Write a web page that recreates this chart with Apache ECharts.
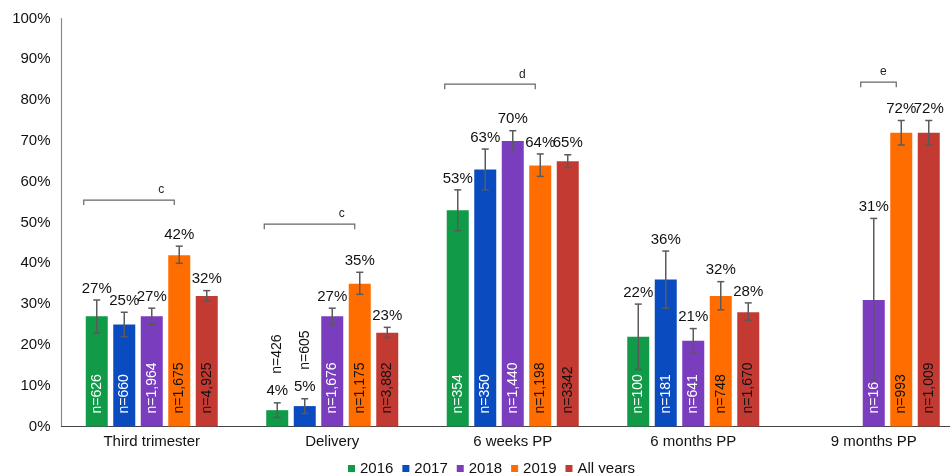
<!DOCTYPE html>
<html>
<head>
<meta charset="utf-8">
<script src="https://cdn.jsdelivr.net/npm/echarts@6/dist/echarts.min.js"></script>
<style>
  html, body { margin: 0; padding: 0; background: #fff; }
  #chart { width: 950px; height: 473px; }
</style>
</head>
<body>
<div id="chart"></div>
<script>
// Time points and cohorts
const categories = ['Third trimester', 'Delivery', '6 weeks PP', '6 months PP', '9 months PP'];
const years = ['2016', '2017', '2018', '2019', 'All years'];

// Percentages per cohort (null = not measured)
const pct2016 = [27, 4, 53, 22, null];
const pct2017 = [25, 5, 63, 36, null];
const pct2018 = [27, 27, 70, 21, 31];
const pct2019 = [42, 35, 64, 32, 72];
const pctAll  = [32, 23, 65, 28, 72];

// 95% confidence interval bounds
const ciLow2016  = [23, 2.2, 48, 14, null];
const ciHigh2016 = [31, 5.8, 58, 30, null];
const ciLow2017  = [22, 3.2, 58, 29, null];
const ciHigh2017 = [28, 6.8, 68, 43, null];
const ciLow2018  = [25, 25, 67.8, 18, 11.4];
const ciHigh2018 = [29, 29, 72.5, 24, 51];
const ciLow2019  = [40, 32.4, 61.3, 28.6, 69];
const ciHigh2019 = [44.2, 37.8, 66.8, 35.5, 75];
const ciLowAll   = [30.8, 21.8, 63.5, 26, 69];
const ciHighAll  = [33.3, 24.3, 66.6, 30.3, 75];

// Sample sizes
const n2016 = ['626', '426', '354', '100', null];
const n2017 = ['660', '605', '350', '181', null];
const n2018 = ['1,964', '1,676', '1,440', '641', '16'];
const n2019 = ['1,675', '1,175', '1,198', '748', '993'];
const nAll  = ['4,925', '3,882', '3342', '1,670', '1,009'];

// Significance brackets: time point, letter, height (%), first and last cohort spanned
const bracketCats    = [0, 1, 2, 4];
const bracketLetters = ['c', 'c', 'd', 'e'];
const bracketLevels  = [55.5, 49.6, 83.9, 84.4];
const bracketFirst   = [0, 0, 0, 2];
const bracketLast    = [3, 3, 3, 3];

const pctSeries  = [pct2016, pct2017, pct2018, pct2019, pctAll];
const lowSeries  = [ciLow2016, ciLow2017, ciLow2018, ciLow2019, ciLowAll];
const highSeries = [ciHigh2016, ciHigh2017, ciHigh2018, ciHigh2019, ciHighAll];
const nSeries    = [n2016, n2017, n2018, n2019, nAll];
const colors = ['#119A48', '#0A4CC0', '#7A3DBE', '#FF6C00', '#C23A32'];

const FONT = '"Liberation Sans", Arial, Helvetica, sans-serif';
const barW = 22;
const barStep = barW * 1.25;
const errColor = '#5a5a5a';

const barSeries = years.map((y, i) => ({
  name: y,
  type: 'bar',
  barWidth: barW,
  barGap: '25%',
  itemStyle: { color: colors[i] },
  data: pctSeries[i],
  z: 2
}));

// Error bars, value labels and sample-size labels for each cohort
const overlaySeries = years.map((y, i) => {
  const data = [];
  categories.forEach((c, k) => {
    if (pctSeries[i][k] != null) data.push([k, pctSeries[i][k], lowSeries[i][k], highSeries[i][k]]);
  });
  return {
    name: 'ci-' + y,
    type: 'custom',
    coordinateSystem: 'cartesian2d',
    encode: { x: 0, y: 1 },
    z: 5,
    silent: true,
    data: data,
    renderItem: function (params, api) {
      const k = api.value(0), v = api.value(1), lo = api.value(2), hi = api.value(3);
      const base = api.coord([k, 0]);
      const cx = base[0] + (i - 2) * barStep;
      const y0 = base[1];
      const yv = api.coord([k, v])[1];
      const yl = api.coord([k, lo])[1];
      const yh = api.coord([k, hi])[1];
      const nText = 'n=' + nSeries[i][k];
      const inside = (y0 - yv) > 45;
      const children = [
        { type: 'line', shape: { x1: cx, y1: yl, x2: cx, y2: yh }, style: { stroke: errColor, lineWidth: 1.5 } },
        { type: 'line', shape: { x1: cx - 3.5, y1: yh, x2: cx + 3.5, y2: yh }, style: { stroke: errColor, lineWidth: 1.5 } },
        { type: 'line', shape: { x1: cx - 3.5, y1: yl, x2: cx + 3.5, y2: yl }, style: { stroke: errColor, lineWidth: 1.5 } },
        { type: 'text', x: cx, y: yh - 4,
          style: { text: v + '%', fill: '#111', font: '15px ' + FONT, align: 'center', verticalAlign: 'bottom' } },
        { type: 'text', x: cx, y: inside ? y0 - 13 : yh - 29, rotation: Math.PI / 2,
          style: { text: nText, fill: (inside && i < 3) ? '#fff' : '#111', font: '14px ' + FONT,
                   align: 'left', verticalAlign: 'middle' } }
      ];
      return { type: 'group', children: children };
    }
  };
});

// Significance brackets above groups
const bracketData = bracketCats.map((c, j) => [c, bracketLevels[j], bracketFirst[j], bracketLast[j], j]);
const bracketSeries = {
  name: 'brackets',
  type: 'custom',
  coordinateSystem: 'cartesian2d',
  encode: { x: 0, y: 1 },
  silent: true,
  z: 6,
  data: bracketData,
  renderItem: function (params, api) {
    const c = api.value(0), lvl = api.value(1), first = api.value(2), last = api.value(3), j = api.value(4);
    const p = api.coord([c, lvl]);
    const x1 = p[0] + (first - 2) * barStep - barW / 2 - 2;
    const x2 = p[0] + (last - 2) * barStep - barW / 2 + 6;
    const y = p[1];
    return {
      type: 'group',
      children: [
        { type: 'polyline', shape: { points: [[x1, y + 5], [x1, y], [x2, y], [x2, y + 5]] },
          style: { stroke: '#666', lineWidth: 1.2, fill: null } },
        { type: 'text', x: x2 - 13, y: y - 4,
          style: { text: bracketLetters[j], fill: '#222', font: '12px ' + FONT, align: 'center', verticalAlign: 'bottom' } }
      ]
    };
  }
};

const chart = echarts.init(document.getElementById('chart'), null, { renderer: 'canvas' });
chart.setOption({
  animation: false,
  textStyle: { fontFamily: FONT },
  grid: { left: 61.5, top: 18.5, width: 902.5, bottom: 46.5, containLabel: false, outerBoundsMode: 'none' },
  legend: {
    data: years,
    left: 343,
    top: 456,
    icon: 'rect',
    itemWidth: 7,
    itemHeight: 7,
    itemGap: 9,
    textStyle: { fontSize: 15, color: '#111', fontFamily: FONT }
  },
  xAxis: {
    type: 'category',
    data: categories,
    axisTick: { show: false },
    axisLine: { lineStyle: { color: '#444', width: 1.2 } },
    axisLabel: { fontSize: 15, color: '#111', margin: 8, interval: 0 }
  },
  yAxis: {
    type: 'value',
    min: 0,
    max: 100,
    interval: 10,
    splitLine: { show: false },
    axisTick: { show: false },
    axisLine: { show: true, lineStyle: { color: '#8a8a8a', width: 1.2 } },
    axisLabel: { formatter: '{value}%', fontSize: 15, color: '#111', margin: 11 }
  },
  series: barSeries.concat(overlaySeries, [bracketSeries])
});
</script>
</body>
</html>
